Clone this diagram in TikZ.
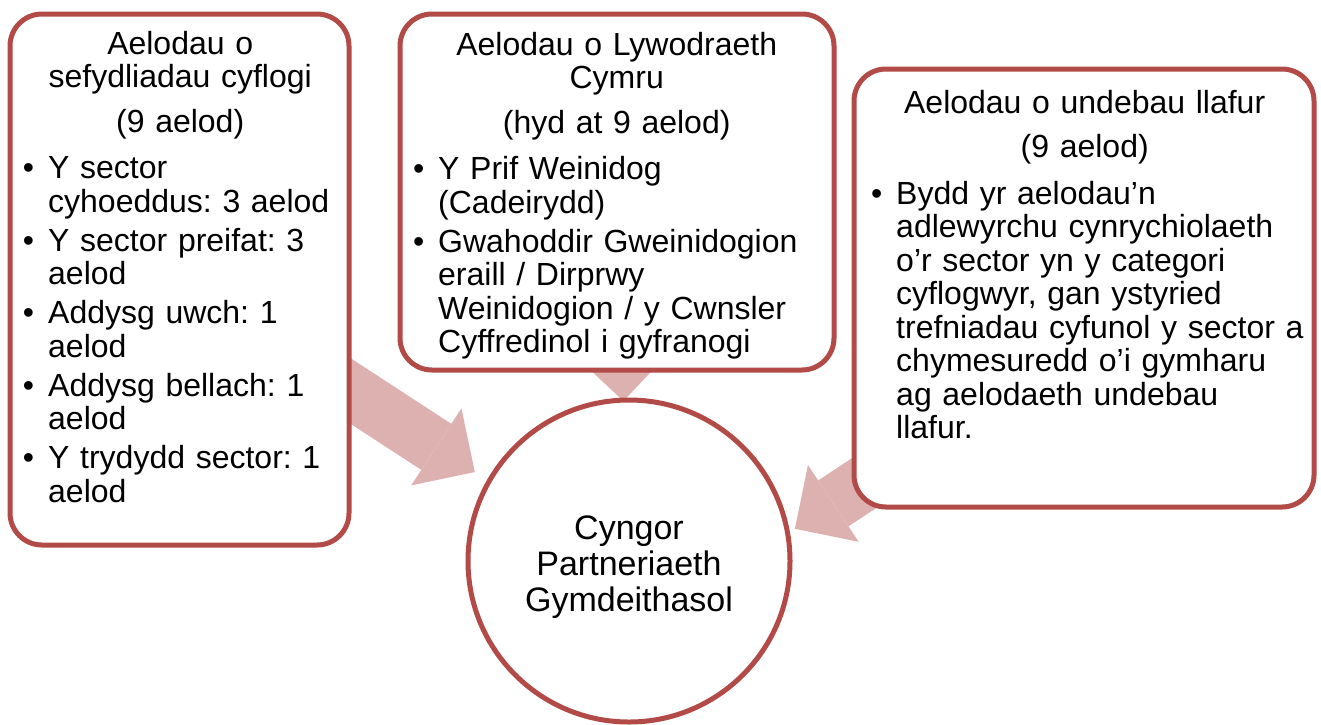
\documentclass[tikz,border=0pt]{standalone}
\usepackage{fontspec}
\setmainfont{Liberation Sans}
\usetikzlibrary{arrows.meta, positioning, calc, backgrounds}

\definecolor{boxred}{RGB}{178,74,71}
\definecolor{arrowpink}{RGB}{222,177,177}

\frenchspacing
% heading of a box: centred title, then the count line
\newcommand{\boxhead}[2]{{\centering #1\par}\vspace{11pt}{\centering #2\par}\vspace{7.5pt}}
% one bullet with hanging text
\newcommand{\bitem}[1]{\vspace{5.5pt}\hangindent=23pt\hangafter=0\rightskip=-40pt plus 1fil\noindent\llap{\textbullet\hspace{14pt}}#1\par}

\begin{document}
\begin{tikzpicture}[
    x=1pt, y=1pt,
    box/.style={draw=boxred, line width=5pt, rounded corners=32pt, fill=white, inner sep=0pt}, % member boxes
    boxtext/.style={anchor=north west, inner sep=0pt, align=left, font=\fontsize{32}{33.5}\selectfont},
    hub/.style={circle, draw=boxred, line width=5pt, fill=white, minimum size=322pt, inner sep=0pt}, % the council
    hubtext/.style={inner sep=0pt, align=center, font=\fontsize{34}{35.7}\selectfont},
    blockarrow/.style={draw=arrowpink, line width=55pt, -{Triangle[length=46pt, width=92pt, line width=0pt]}}
]

    \useasboundingbox (0,0) rectangle (1321,-724);

    % === Boxes and circle ===
    \node[box, minimum width=339pt, minimum height=531pt] (lbox) at (179.5,-279.5) {};
    \node[box, minimum width=434pt, minimum height=356pt] (mbox) at (617,-192) {};
    \node[box, minimum width=460pt, minimum height=438pt] (rbox) at (1084,-288) {};
    \node[hub] (cpr) at (629,-561) {};
    \node[hubtext] (cprtext) at ($(cpr.center)+(0,-6)$) {Cyngor\\Partneriaeth\\Gymdeithasol};

    % === Box texts ===
    \node[boxtext, text width=310pt] (ltext) at (25,-31) {%
        \boxhead{Aelodau o\\sefydliadau cyflogi}{(9 aelod)}%
        \bitem{Y sector\newline cyhoeddus: 3 aelod}%
        \bitem{Y sector preifat: 3\newline aelod}%
        \bitem{Addysg uwch: 1\newline aelod}%
        \bitem{Addysg bellach: 1\newline aelod}%
        \bitem{Y trydydd sector: 1\newline aelod}};

    \node[boxtext, text width=403pt] (mtext) at (415,-32) {%
        \boxhead{Aelodau o Lywodraeth\\Cymru}{(hyd at 9 aelod)}%
        \bitem{Y Prif Weinidog\newline (Cadeirydd)}%
        \bitem{Gwahoddir Gweinidogion\newline eraill / Dirprwy\newline Weinidogion / y Cwnsler\newline Cyffredinol i gyfranogi}};

    \node[boxtext, text width=423pt] (rtext) at (873,-90) {%
        \boxhead{Aelodau o undebau llafur}{(9 aelod)}%
        \bitem{Bydd yr aelodau’n\newline adlewyrchu cynrychiolaeth\newline o’r sector yn y categori\newline cyflogwyr, gan ystyried\newline trefniadau cyfunol y sector a\newline chymesuredd o’i gymharu\newline ag aelodaeth undebau\newline llafur.}};

    % === Arrows into the council ===
    \coordinate (ltip) at ($(cpr.center)+(150:178)$);
    \coordinate (mtip) at ($(cpr.center)+(92:160)$);
    \coordinate (rtip) at ($(cpr.center)+(11:169)$);
    \coordinate (rfoot) at (1046,-363);

    \begin{scope}[on background layer]
        \draw[blockarrow] (lbox.center) -- (ltip);
        \draw[blockarrow] (mbox.center) -- (mtip);
        \draw[blockarrow] (rfoot) -- (rtip);
    \end{scope}

\end{tikzpicture}
\end{document}
